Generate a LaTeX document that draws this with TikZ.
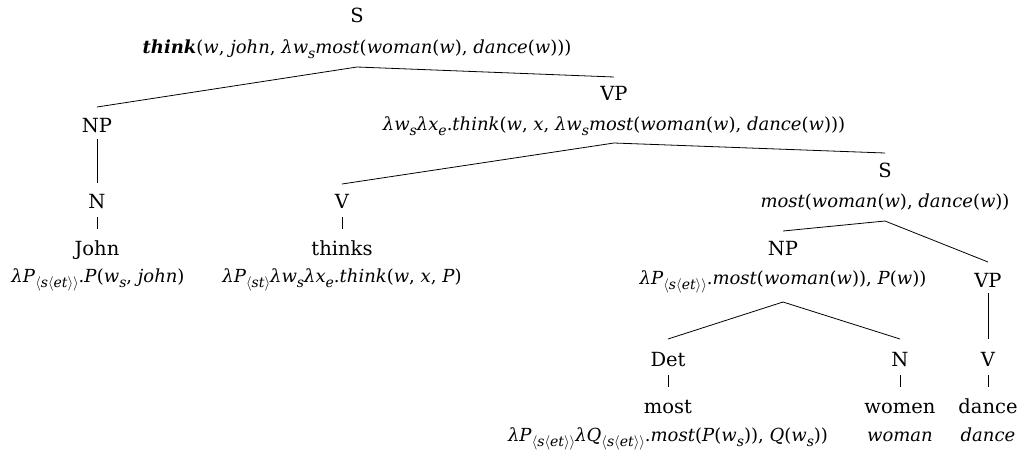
\documentclass[tikz,border=0pt]{standalone}
\usepackage{fontspec}
\setmainfont{DejaVu Serif}
\newcommand\I[1]{\textit{#1}}
\newcommand\lam{\textit{λ}}
\newcommand\sbt[1]{\raisebox{-0.28em}{\fontsize{14}{14}\selectfont\itshape #1}}
\newcommand\la{$\langle$}
\newcommand\ra{$\rangle$}
\newcommand\set{\sbt{\la s\la et\ra\ra}}
\begin{document}
\begin{tikzpicture}[x=1pt,y=-1pt,
  every node/.style={inner sep=0pt, anchor=base},
  lbl/.style={font=\fontsize{19.5}{22}\selectfont},
  frm/.style={font=\fontsize{18}{22}\selectfont},
  edge/.style={line width=0.8pt}]
\useasboundingbox (0,0) rectangle (1023,453);
% nodes
\node[lbl] (S0) at (357,22) {S};
\node[frm] (S0f) at (357,53) {\textbf{\I{think}}(\I{w}, \I{john}, \lam\I{w}\sbt{s}\I{most}(\I{woman}(\I{w}), \I{dance}(\I{w})))};
\node[lbl] (NP1) at (97,132) {NP};
\node[lbl] (N1) at (97,208) {N};
\node[lbl] (John) at (97,255) {John};
\node[frm] (Johnf) at (98,282) {\lam\I{P}\set.\I{P}(\I{w}\sbt{s}, \I{john})};
\node[lbl] (VP1) at (614,100) {VP};
\node[frm] (VP1f) at (614,130) {\lam\I{w}\sbt{s}\lam\I{x}\sbt{e}.\I{think}(\I{w}, \I{x}, \lam\I{w}\sbt{s}\I{most}(\I{woman}(\I{w}), \I{dance}(\I{w})))};
\node[lbl] (V1) at (342,208) {V};
\node[lbl] (thinks) at (342,255) {thinks};
\node[frm] (thinksf) at (342,282) {\lam\I{P}\sbt{\la st\ra}\lam\I{w}\sbt{s}\lam\I{x}\sbt{e}.\I{think}(\I{w}, \I{x}, \I{P})};
\node[lbl] (S2) at (885,177) {S};
\node[frm] (S2f) at (885,207) {\I{most}(\I{woman}(\I{w}), \I{dance}(\I{w}))};
\node[lbl] (NP2) at (783,255) {NP};
\node[frm] (NP2f) at (783,284) {\lam\I{P}\set.\I{most}(\I{woman}(\I{w})), \I{P}(\I{w}))};
\node[lbl] (VP2) at (988,287) {VP};
\node[lbl] (Det) at (668,366) {Det};
\node[lbl] (most) at (668,413) {most};
\node[frm] (mostf) at (668,441) {\lam\I{P}\set\lam\I{Q}\set.\I{most}(\I{P}(\I{w}\sbt{s})), \I{Q}(\I{w}\sbt{s}))};
\node[lbl] (N3) at (900,366) {N};
\node[lbl] (women) at (900,413) {women};
\node[frm] (womenf) at (900,441) {\I{woman}};
\node[lbl] (V3) at (988,366) {V};
\node[lbl] (dance) at (988,413) {dance};
\node[frm] (dancef) at (988,441) {\I{dance}};
% connectors
\draw[edge] ([yshift=25pt]NP1.base) -- ([yshift=-14pt]S0f.base) -- ([yshift=23pt]VP1.base);
\draw[edge] ([yshift=-7pt]NP1.base) -- ([yshift=25pt]N1.base);
\draw[edge] ([yshift=-9pt]N1.base) -- ([yshift=26pt]John.base);
\draw[edge] ([yshift=24pt]V1.base) -- ([yshift=-13pt]VP1f.base) -- ([yshift=24pt]S2.base);
\draw[edge] ([yshift=-9pt]V1.base) -- ([yshift=26pt]thinks.base);
\draw[edge] ([yshift=24pt]NP2.base) -- ([yshift=-14pt]S2f.base) -- ([yshift=25pt]VP2.base);
\draw[edge] ([yshift=27pt]Det.base) -- ([yshift=-18pt]NP2f.base) -- ([yshift=27pt]N3.base);
\draw[edge] ([yshift=-6pt]VP2.base) -- ([yshift=27pt]V3.base);
\draw[edge] ([yshift=-9pt]Det.base) -- ([yshift=26pt]most.base);
\draw[edge] ([yshift=-9pt]N3.base) -- ([yshift=26pt]women.base);
\draw[edge] ([yshift=-9pt]V3.base) -- ([yshift=26pt]dance.base);
\end{tikzpicture}
\end{document}
